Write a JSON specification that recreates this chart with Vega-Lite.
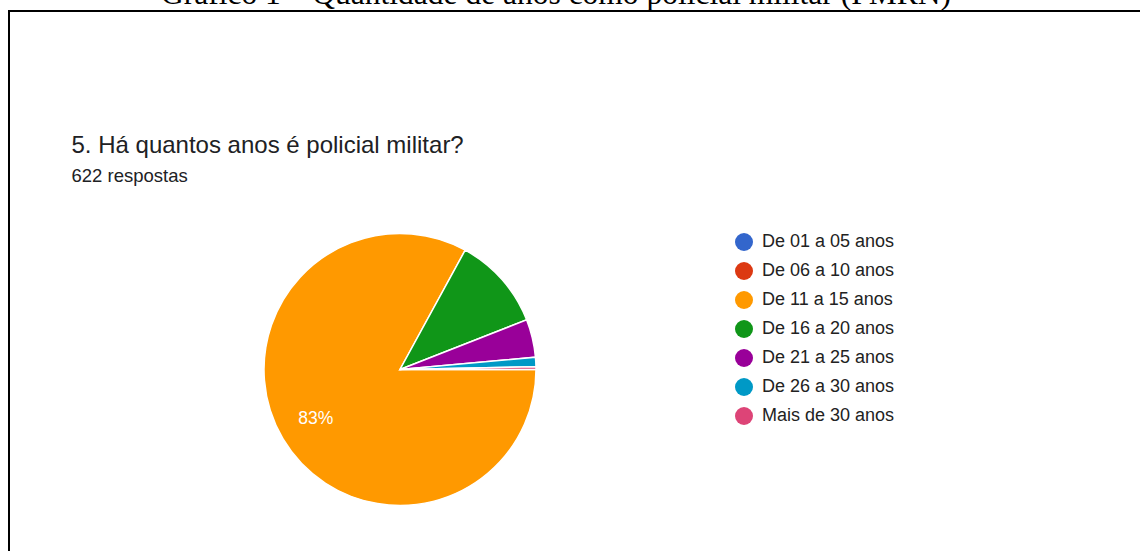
{
  "$schema": "https://vega.github.io/schema/vega-lite/v6.json",
  "autosize": {"type": "none"},
  "width": 1134,
  "height": 543,
  "padding": {"left": 9, "top": 11, "right": -3, "bottom": -3},
  "background": "white",
  "title": {
    "text": "Gráfico 1 – Quantidade de anos como policial militar (PMRN)",
    "font": "Liberation Serif",
    "fontSize": 31.5,
    "fontWeight": "normal",
    "color": "black",
    "anchor": "middle",
    "frame": "group",
    "baseline": "alphabetic",
    "offset": 6,
    "dx": -20,
    "dy": 30
  },
  "data": {
    "values": [
      {"categoria": "De 01 a 05 anos", "n": 0, "rotulo": ""},
      {"categoria": "De 06 a 10 anos", "n": 0, "rotulo": ""},
      {"categoria": "De 11 a 15 anos", "n": 516, "rotulo": "83%"},
      {"categoria": "De 16 a 20 anos", "n": 69, "rotulo": ""},
      {"categoria": "De 21 a 25 anos", "n": 28, "rotulo": ""},
      {"categoria": "De 26 a 30 anos", "n": 7, "rotulo": ""},
      {"categoria": "Mais de 30 anos", "n": 2, "rotulo": ""}
    ]
  },
  "encoding": {
    "x": {
      "datum": 0.3448,
      "type": "quantitative",
      "scale": {"domain": [0, 1], "nice": false, "zero": false},
      "axis": {
        "orient": "top",
        "domain": false, "ticks": false, "labels": false, "grid": false,
        "title": "5. Há quantos anos é policial militar?",
        "titleFont": "Liberation Sans",
        "titleFontSize": 24,
        "titleFontWeight": "normal",
        "titleColor": "#202124",
        "titleAlign": "left",
        "titleBaseline": "alphabetic",
        "titleAngle": 0,
        "titleX": 62,
        "titleY": 141
      }
    },
    "y": {
      "datum": 0.6602,
      "type": "quantitative",
      "scale": {"domain": [0, 1], "reverse": true, "nice": false, "zero": false},
      "axis": {
        "orient": "left",
        "domain": false, "ticks": false, "labels": false, "grid": false,
        "title": "622 respostas",
        "titleFont": "Liberation Sans",
        "titleFontSize": 18.5,
        "titleFontWeight": "normal",
        "titleColor": "#202124",
        "titleAlign": "left",
        "titleBaseline": "alphabetic",
        "titleAngle": 0,
        "titleX": 62,
        "titleY": 170
      }
    },
    "theta": {
      "field": "n",
      "type": "quantitative",
      "stack": true,
      "scale": {"range": [1.5708, 7.854]}
    }
  },
  "layer": [
    {
      "mark": {"type": "arc", "radius": 136, "stroke": "white", "strokeWidth": 1.5},
      "encoding": {
        "color": {
          "field": "categoria",
          "type": "nominal",
          "scale": {
            "domain": ["De 01 a 05 anos", "De 06 a 10 anos", "De 11 a 15 anos", "De 16 a 20 anos", "De 21 a 25 anos", "De 26 a 30 anos", "Mais de 30 anos"],
            "range": ["#3366cc", "#dc3912", "#ff9900", "#109618", "#990099", "#0099c6", "#dd4477"]
          },
          "legend": {
            "orient": "none",
            "legendX": 726,
            "legendY": 222,
            "title": null,
            "padding": 0,
            "symbolType": "circle",
            "symbolSize": 324,
            "symbolStrokeWidth": 0,
            "symbolOpacity": 1,
            "labelFont": "Liberation Sans",
            "labelFontSize": 18,
            "labelColor": "#222222",
            "labelOffset": 9,
            "rowPadding": 11
          }
        }
      }
    },
    {
      "mark": {"type": "text", "radius": 98, "color": "white", "font": "Liberation Sans", "fontSize": 17.5, "align": "center", "baseline": "middle"},
      "encoding": {
        "text": {"field": "rotulo", "type": "nominal"},
        "order": {"field": "categoria"}
      }
    }
  ],
  "config": {
    "view": {"stroke": "black", "strokeWidth": 2}
  }
}
